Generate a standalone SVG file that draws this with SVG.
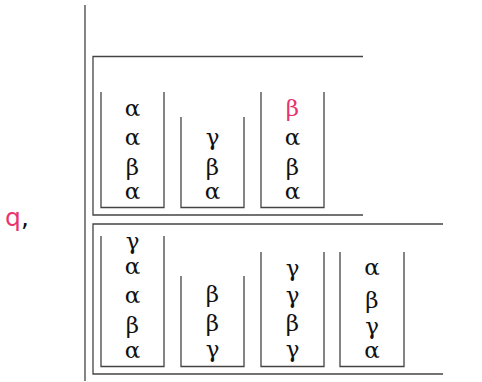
<svg xmlns="http://www.w3.org/2000/svg" width="482" height="382" viewBox="0 0 482 382">
<style>
.ln{fill:none;stroke:#444;stroke-width:1.3}
.ax{fill:none;stroke:#666;stroke-width:1.6}
.g{font-family:"DejaVu Serif","Liberation Serif",serif;font-size:23px;fill:#111;text-anchor:middle}
.pk{fill:#e8336f}
.q{font-family:"DejaVu Sans","Liberation Sans",sans-serif;font-size:25px;fill:#e8336f}
.cm{font-family:"DejaVu Sans","Liberation Sans",sans-serif;font-size:25px;fill:#111}
</style>
<g id="axis"><line class="ax" x1="85" y1="5" x2="85" y2="381"/></g>
<g id="label"><text class="q" x="5" y="226">q</text><text class="cm" x="21" y="226">,</text></g>
<g id="frame-top">
<path class="ln" d="M363 56.5H93V215H363"/>
<g id="t1"><path class="ln" d="M101 92V207.5H164V92"/>
<text class="g" x="132.5" y="116">α</text><text class="g" x="132.5" y="145">α</text><text class="g" x="132.5" y="175">β</text><text class="g" x="132.5" y="199">α</text></g>
<g id="t2"><path class="ln" d="M181 117V207.5H244V117"/>
<text class="g" x="212.5" y="145">γ</text><text class="g" x="212.5" y="175">β</text><text class="g" x="212.5" y="199">α</text></g>
<g id="t3"><path class="ln" d="M261 92V207.5H324V92"/>
<text class="g pk" x="292.5" y="116">β</text><text class="g" x="292.5" y="145">α</text><text class="g" x="292.5" y="175">β</text><text class="g" x="292.5" y="199">α</text></g>
</g>
<g id="frame-bottom">
<path class="ln" d="M443 224H93V374H443"/>
<g id="b1"><path class="ln" d="M101 236V366.5H164V236"/>
<text class="g" x="132.5" y="249">γ</text><text class="g" x="132.5" y="274">α</text><text class="g" x="132.5" y="303">α</text><text class="g" x="132.5" y="333">β</text><text class="g" x="132.5" y="358">α</text></g>
<g id="b2"><path class="ln" d="M181 276V366.5H244V276"/>
<text class="g" x="212.5" y="302">β</text><text class="g" x="212.5" y="331">β</text><text class="g" x="212.5" y="357">γ</text></g>
<g id="b3"><path class="ln" d="M261 252V366.5H324V252"/>
<text class="g" x="292.5" y="276">γ</text><text class="g" x="292.5" y="303">γ</text><text class="g" x="292.5" y="331">β</text><text class="g" x="292.5" y="357">γ</text></g>
<g id="b4"><path class="ln" d="M340 252V366.5H404V252"/>
<text class="g" x="372" y="275">α</text><text class="g" x="372" y="308">β</text><text class="g" x="372" y="334">γ</text><text class="g" x="372" y="358">α</text></g>
</g>
</svg>
